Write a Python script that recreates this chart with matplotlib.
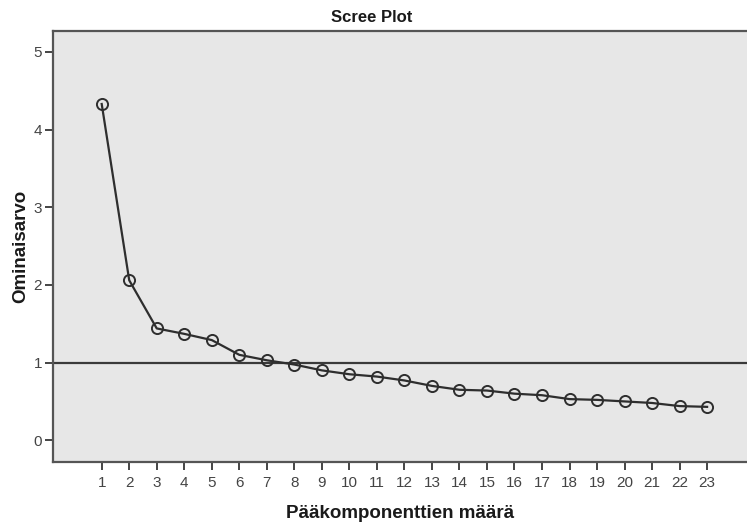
import matplotlib
matplotlib.use("Agg")
import matplotlib.pyplot as plt

plt.rcParams['font.family'] = ['Liberation Sans', 'DejaVu Sans']

components = list(range(1, 24))
eigenvalues = [4.33, 2.06, 1.44, 1.37, 1.29, 1.10, 1.03, 0.975, 0.90, 0.85,
               0.82, 0.77, 0.70, 0.65, 0.64, 0.60, 0.58, 0.53, 0.52, 0.50,
               0.48, 0.44, 0.43]
y_ticks = [0, 1, 2, 3, 4, 5]
reference_level = 1.0

W, H = 747, 531
fig = plt.figure(figsize=(W / 100, H / 100), dpi=100)
ax = fig.add_axes([53 / W, (H - 462) / H, (W - 53) / W, (462 - 31) / H])

ax.set_facecolor('#e7e7e7')
ax.axhline(reference_level, color='#3a3a3a', lw=1.6, zorder=2)
ax.plot(components, eigenvalues, color='#2e2e2e', lw=1.6, zorder=3,
        marker='o', markersize=8, markerfacecolor='none',
        markeredgecolor='#2e2e2e', markeredgewidth=1.4)

ax.set_xlim(-0.77, 24.45)
ax.set_ylim(-0.28, 5.27)
ax.set_xticks(components)
ax.set_yticks(y_ticks)

for side in ('left', 'bottom', 'top'):
    ax.spines[side].set_color('#555555')
    ax.spines[side].set_linewidth(1.6)
ax.spines['right'].set_visible(False)

ax.tick_params(axis='both', direction='out', length=6, width=1.4,
               color='#444444', labelcolor='#444444', labelsize=11)
ax.tick_params(axis='y', pad=2)
ax.tick_params(axis='x', pad=4)

ax.set_xlabel('Pääkomponenttien määrä', fontsize=13.5, fontweight='bold',
              color='#1a1a1a', labelpad=11)
ax.set_ylabel('Ominaisarvo', fontsize=13.5, fontweight='bold',
              color='#1a1a1a', labelpad=3)
fig.text(372 / W, 1 - 18 / H, 'Scree Plot', ha='center', va='center',
         fontsize=12, fontweight='bold', color='#1a1a1a')

fig.savefig('out.png', dpi=100)
